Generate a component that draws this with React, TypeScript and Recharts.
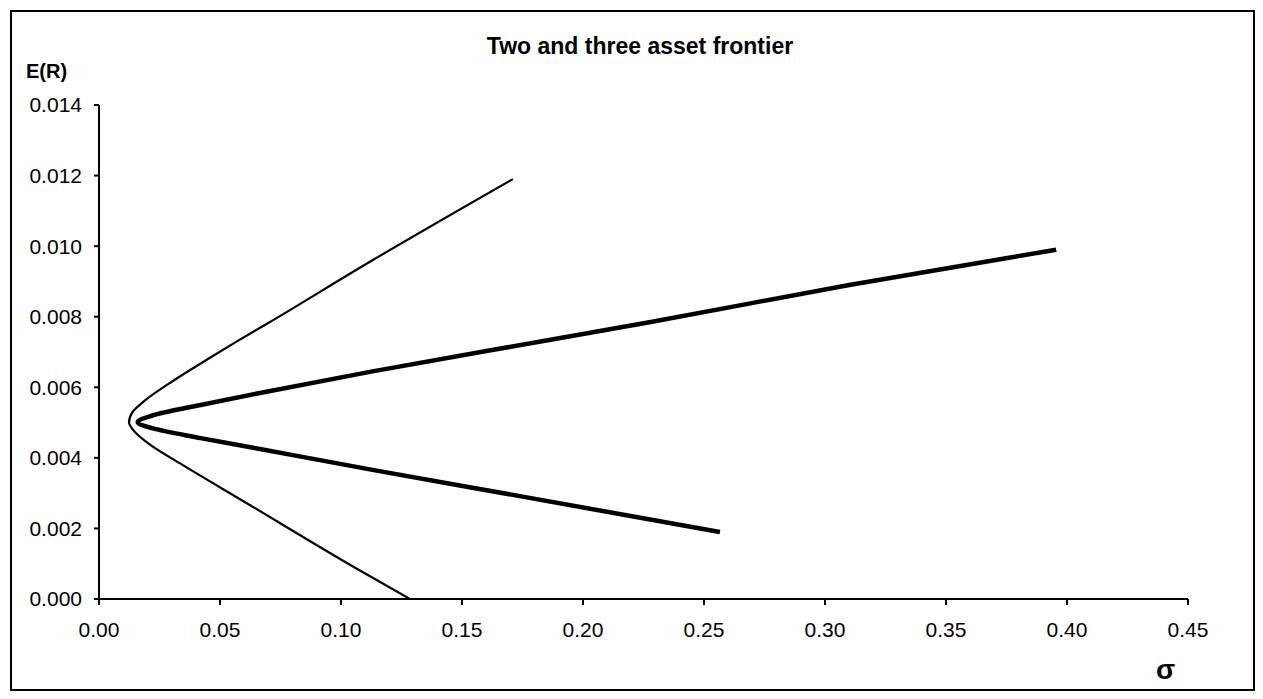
import React from "react";
import { LineChart, Line, XAxis, YAxis } from "recharts";

// axis ticks
const xTicks = [0, 0.05, 0.1, 0.15, 0.2, 0.25, 0.3, 0.35, 0.4, 0.45];
const yTicks = [0, 0.002, 0.004, 0.006, 0.008, 0.01, 0.012, 0.014];

// two asset frontier (thin line), read top to bottom
const twoAssetSigma = [
  0.171, 0.113, 0.0694, 0.057, 0.045, 0.031, 0.0185, 0.0139, 0.0124, 0.014,
  0.0205, 0.0345, 0.059, 0.108, 0.1285,
];
const twoAssetReturn = [
  0.0119, 0.0096, 0.0078, 0.0073, 0.0068, 0.0062, 0.0056, 0.0053, 0.005,
  0.0048, 0.0044, 0.0038, 0.0028, 0.0008, 0.0,
];

// three asset frontier (thick line), read top to bottom
const threeAssetSigma = [
  0.3955, 0.31, 0.228, 0.186, 0.113, 0.0665, 0.042, 0.022, 0.016, 0.022,
  0.042, 0.0665, 0.113, 0.171, 0.2566,
];
const threeAssetReturn = [
  0.0099, 0.0089, 0.00785, 0.00734, 0.00645, 0.00584, 0.0055, 0.0052,
  0.00501, 0.00484, 0.00456, 0.00425, 0.00366, 0.00295, 0.0019,
];

const zip = (s: number[], r: number[]) =>
  s.map((sigma, i) => ({ sigma, ret: r[i] }));

const twoAsset = zip(twoAssetSigma, twoAssetReturn);
const threeAsset = zip(threeAssetSigma, threeAssetReturn);

const font = '"Liberation Sans", Arial, sans-serif';
const tickStyle = { fontSize: 21, fill: "#000", fontFamily: font };
const axisLine = { stroke: "#000", strokeWidth: 2 };
const tickLine = { stroke: "#000", strokeWidth: 2 };

export default function App() {
  return (
    <div style={{ position: "relative", width: 1247, height: 683, fontFamily: font }}>
      <div
        style={{
          position: "absolute",
          left: 2,
          top: 2,
          width: 1241,
          height: 677,
          border: "2px solid #000",
          background: "#fff",
        }}
      >
        <LineChart
          width={1241}
          height={677}
          margin={{ top: 93, right: 65, left: 0, bottom: 0 }}
        >
          <XAxis
            type="number"
            dataKey="sigma"
            domain={[0, 0.45]}
            ticks={xTicks}
            tickFormatter={(v: number) => v.toFixed(2)}
            tick={tickStyle}
            axisLine={axisLine}
            tickLine={tickLine}
            tickSize={6}
            tickMargin={17}
            height={90}
            allowDataOverflow
          />
          <YAxis
            type="number"
            dataKey="ret"
            domain={[0, 0.014]}
            ticks={yTicks}
            tickFormatter={(v: number) => v.toFixed(3)}
            tick={tickStyle}
            axisLine={axisLine}
            tickLine={tickLine}
            tickSize={5}
            tickMargin={12}
            width={87}
            allowDataOverflow
          />
          <Line
            data={twoAsset}
            dataKey="ret"
            type="monotoneY"
            stroke="#000"
            strokeWidth={2.2}
            dot={false}
            isAnimationActive={false}
          />
          <Line
            data={threeAsset}
            dataKey="ret"
            type="monotoneY"
            stroke="#000"
            strokeWidth={4.5}
            dot={false}
            isAnimationActive={false}
          />
        </LineChart>
      </div>
      <div
        style={{
          position: "absolute",
          left: 0,
          width: 1264,
          top: 27,
          textAlign: "center",
          fontSize: 23,
          fontWeight: "bold",
          lineHeight: 1,
        }}
      >
        Two and three asset frontier
      </div>
      <div
        style={{
          position: "absolute",
          left: 18,
          top: 53,
          fontSize: 20,
          fontWeight: "bold",
          lineHeight: 1,
        }}
      >
        E(R)
      </div>
      <div
        style={{
          position: "absolute",
          left: 1148,
          top: 648,
          fontSize: 28,
          fontWeight: "bold",
          lineHeight: 1,
        }}
      >
        σ
      </div>
    </div>
  );
}
